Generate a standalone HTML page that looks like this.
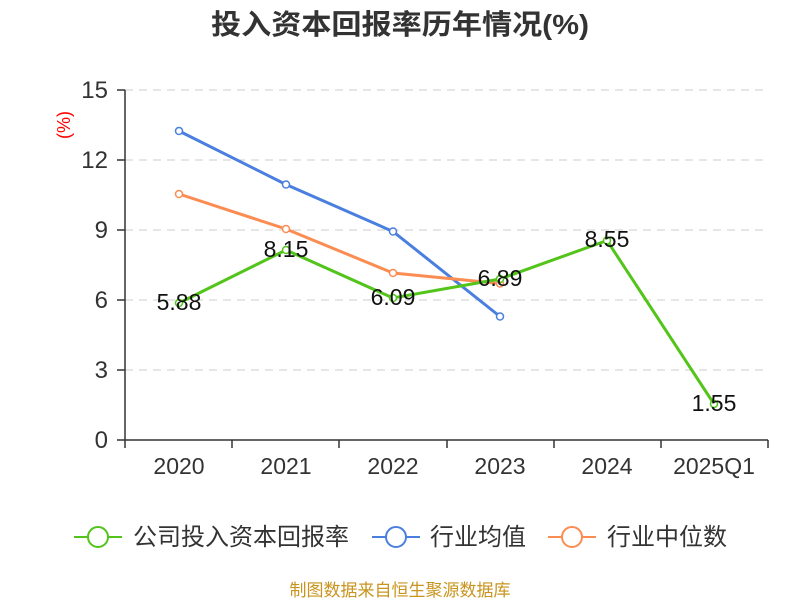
<!DOCTYPE html>
<html><head><meta charset="utf-8"><style>
body{margin:0;background:#fff;width:800px;height:600px;overflow:hidden}
text{font-family:"Liberation Sans","Noto Sans CJK SC",sans-serif}
</style></head><body>
<svg width="800" height="600" viewBox="0 0 800 600">
<text x="400" y="34" text-anchor="middle" font-size="28" font-weight="bold" fill="#333" textLength="378" lengthAdjust="spacingAndGlyphs">投入资本回报率历年情况(%)</text>
<g stroke="#ccc" stroke-dasharray="8,6" stroke-width="1">
<line x1="125" x2="768" y1="90" y2="90"/><line x1="125" x2="768" y1="160" y2="160"/><line x1="125" x2="768" y1="230" y2="230"/><line x1="125" x2="768" y1="300" y2="300"/><line x1="125" x2="768" y1="370" y2="370"/>
</g>
<g stroke="#333" stroke-width="1.5">
<line x1="125" x2="125" y1="90" y2="440"/>
<line x1="125" x2="768" y1="440" y2="440"/>
<line x1="117" x2="125" y1="90" y2="90"/><line x1="117" x2="125" y1="160" y2="160"/><line x1="117" x2="125" y1="230" y2="230"/><line x1="117" x2="125" y1="300" y2="300"/><line x1="117" x2="125" y1="370" y2="370"/><line x1="117" x2="125" y1="440" y2="440"/>
<line x1="125" x2="125" y1="440" y2="448"/><line x1="232" x2="232" y1="440" y2="448"/><line x1="339" x2="339" y1="440" y2="448"/><line x1="447" x2="447" y1="440" y2="448"/><line x1="554" x2="554" y1="440" y2="448"/><line x1="661" x2="661" y1="440" y2="448"/><line x1="768" x2="768" y1="440" y2="448"/>
</g>
<g font-size="24" fill="#333" text-anchor="end">
<text x="108" y="98">15</text><text x="108" y="168">12</text><text x="108" y="238">9</text><text x="108" y="308">6</text><text x="108" y="378">3</text><text x="108" y="448">0</text>
</g>
<text transform="translate(70,125) rotate(-90)" font-size="18" fill="#f00" text-anchor="middle">(%)</text>
<g font-size="23" fill="#333" text-anchor="middle">
<text x="179" y="474">2020</text><text x="286" y="474">2021</text><text x="393" y="474">2022</text><text x="500" y="474">2023</text><text x="607" y="474">2024</text><text x="714" y="474">2025Q1</text>
</g>
<g fill="none" stroke-width="3">
<polyline stroke="#4a7fe0" points="179,131 286,184.5 393,231.5 500,316.5"/>
<polyline stroke="#fb8c52" points="179,194 286,229 393,273 500,283.5"/>
<polyline stroke="#52c41a" points="179,303 286,250 393,298 500,279 607,240.5 714,404"/>
</g>
<g fill="#fff" stroke-width="1.5">
<g stroke="#4a7fe0"><circle cx="179" cy="131" r="3.5"/><circle cx="286" cy="184.5" r="3.5"/><circle cx="393" cy="231.5" r="3.5"/><circle cx="500" cy="316.5" r="3.5"/></g>
<g stroke="#fb8c52"><circle cx="179" cy="194" r="3.5"/><circle cx="286" cy="229" r="3.5"/><circle cx="393" cy="273" r="3.5"/><circle cx="500" cy="283.5" r="3.5"/></g>
<g stroke="#52c41a"><circle cx="179" cy="303" r="3.5"/><circle cx="286" cy="250" r="3.5"/><circle cx="393" cy="298" r="3.5"/><circle cx="500" cy="279" r="3.5"/><circle cx="607" cy="240.5" r="3.5"/><circle cx="714" cy="404" r="3.5"/></g>
</g>
<g font-size="23" fill="#111" text-anchor="middle">
<text x="179" y="310">5.88</text><text x="286" y="257">8.15</text><text x="393" y="305">6.09</text><text x="500" y="286">6.89</text><text x="607" y="247">8.55</text><text x="714" y="411">1.55</text>
</g>
<g stroke-width="2" fill="#fff">
<line x1="74" x2="122" y1="537" y2="537" stroke="#52c41a"/><circle cx="98" cy="537" r="10" stroke="#52c41a"/>
<line x1="372" x2="420" y1="537" y2="537" stroke="#4a7fe0"/><circle cx="396" cy="537" r="10" stroke="#4a7fe0"/>
<line x1="548" x2="596" y1="537" y2="537" stroke="#fb8c52"/><circle cx="572" cy="537" r="10" stroke="#fb8c52"/>
</g>
<g font-size="24" fill="#333">
<text x="133" y="545">公司投入资本回报率</text><text x="430" y="545">行业均值</text><text x="607" y="545">行业中位数</text>
</g>
<text x="400" y="596" text-anchor="middle" font-size="17" fill="#c8941e">制图数据来自恒生聚源数据库</text>
</svg>
</body></html>
